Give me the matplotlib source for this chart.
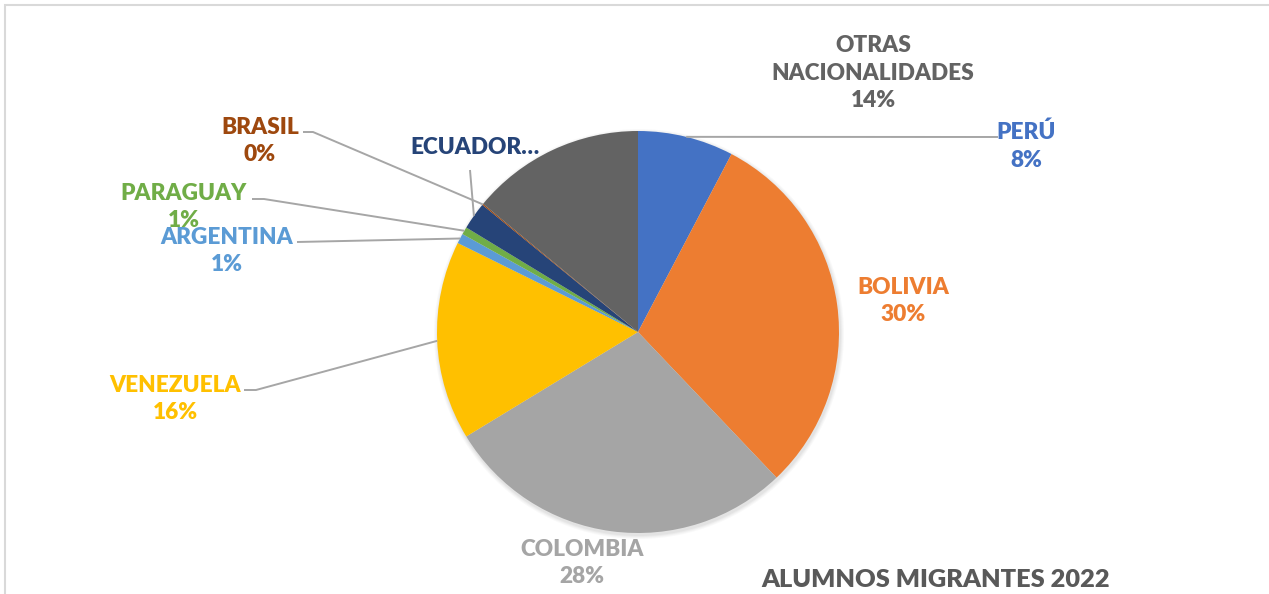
import matplotlib
matplotlib.use("Agg")
import matplotlib.pyplot as plt
from matplotlib.patches import Rectangle
import numpy as np

# ---- data ----
categories = ["PERÚ", "BOLIVIA", "COLOMBIA", "VENEZUELA", "ARGENTINA",
              "PARAGUAY", "ECUADOR", "BRASIL", "OTRAS NACIONALIDADES"]
values = [7.7, 30.2, 28.4, 16.0, 0.8, 0.6, 2.2, 0.1, 14.0]
colors = ["#4472C4", "#ED7D31", "#A5A5A5", "#FFC000", "#5B9BD5",
          "#70AD47", "#264478", "#9E480E", "#636363"]
label_texts = ["PERÚ", "BOLIVIA", "COLOMBIA", "VENEZUELA", "ARGENTINA",
               "PARAGUAY", "ECUADOR…", "BRASIL", "OTRAS\nNACIONALIDADES"]
show_pct = [True, True, True, True, True, True, False, True, True]
title = "ALUMNOS MIGRANTES 2022"

# ---- layout (pixel coordinates, y measured from top) ----
W, H = 1269, 594
CX, CY, R = 638, 332, 201
label_pos = [(1026, 146), (903, 301), (582, 563), (175, 399), (227, 251),
             (184, 207), (475, 147), (260, 141), (873, 73)]
leader_start = [[(998, 137)], None, None, [(244, 390), (256, 390)],
                [(297, 242)], [(252, 199), (264, 199)], [(470, 170)],
                [(303, 132), (313, 132)], None]

plt.rcParams['font.family'] = ['Lato', 'DejaVu Sans']

fig = plt.figure(figsize=(W / 100, H / 100), dpi=100)
ax = fig.add_axes([0, 0, 1, 1])


def Y(py):
    return H - py


# soft shadow
for i, a in enumerate([0.025, 0.025, 0.03, 0.03]):
    ax.add_patch(plt.Circle((CX + 1, Y(CY + 2)), R + 4 - i, color="black",
                            alpha=a, lw=0, zorder=1))

wedges, _ = ax.pie(values, colors=colors, startangle=90, counterclock=False,
                   center=(CX, Y(CY)), radius=R,
                   wedgeprops=dict(linewidth=0, zorder=2))
for w in wedges:
    w.set_zorder(2)

for i, w in enumerate(wedges):
    txt = label_texts[i]
    if show_pct[i]:
        txt += "\n" + f"{values[i]:.0f}%"
    col = colors[i]
    ax.text(label_pos[i][0], Y(label_pos[i][1]), txt, ha="center", va="center",
            color=col, fontsize=16.3, fontweight="heavy", linespacing=1.4,
            zorder=4)
    if leader_start[i] is not None:
        mid = np.deg2rad((w.theta1 + w.theta2) / 2)
        ex = CX + R * np.cos(mid)
        ey = Y(CY) + R * np.sin(mid)
        xs = [p[0] for p in leader_start[i]] + [ex]
        ys = [Y(p[1]) for p in leader_start[i]] + [ey]
        ax.plot(xs, ys, color="#A6A6A6", lw=1.4, zorder=3,
                solid_capstyle="butt")

ax.text(936, Y(580), title, ha="center", va="center", color="#595959",
        fontsize=18.3, fontweight="heavy", zorder=4)

# chart border (top & left visible)
ax.add_patch(Rectangle((5, Y(H + 20)), W + 20, H + 15, fill=False,
                       edgecolor="#D9D9D9", lw=1.5, zorder=5))

ax.set_xlim(0, W)
ax.set_ylim(0, H)
ax.set_aspect("equal")
ax.axis("off")

fig.savefig("out.png", dpi=100, facecolor="white")
